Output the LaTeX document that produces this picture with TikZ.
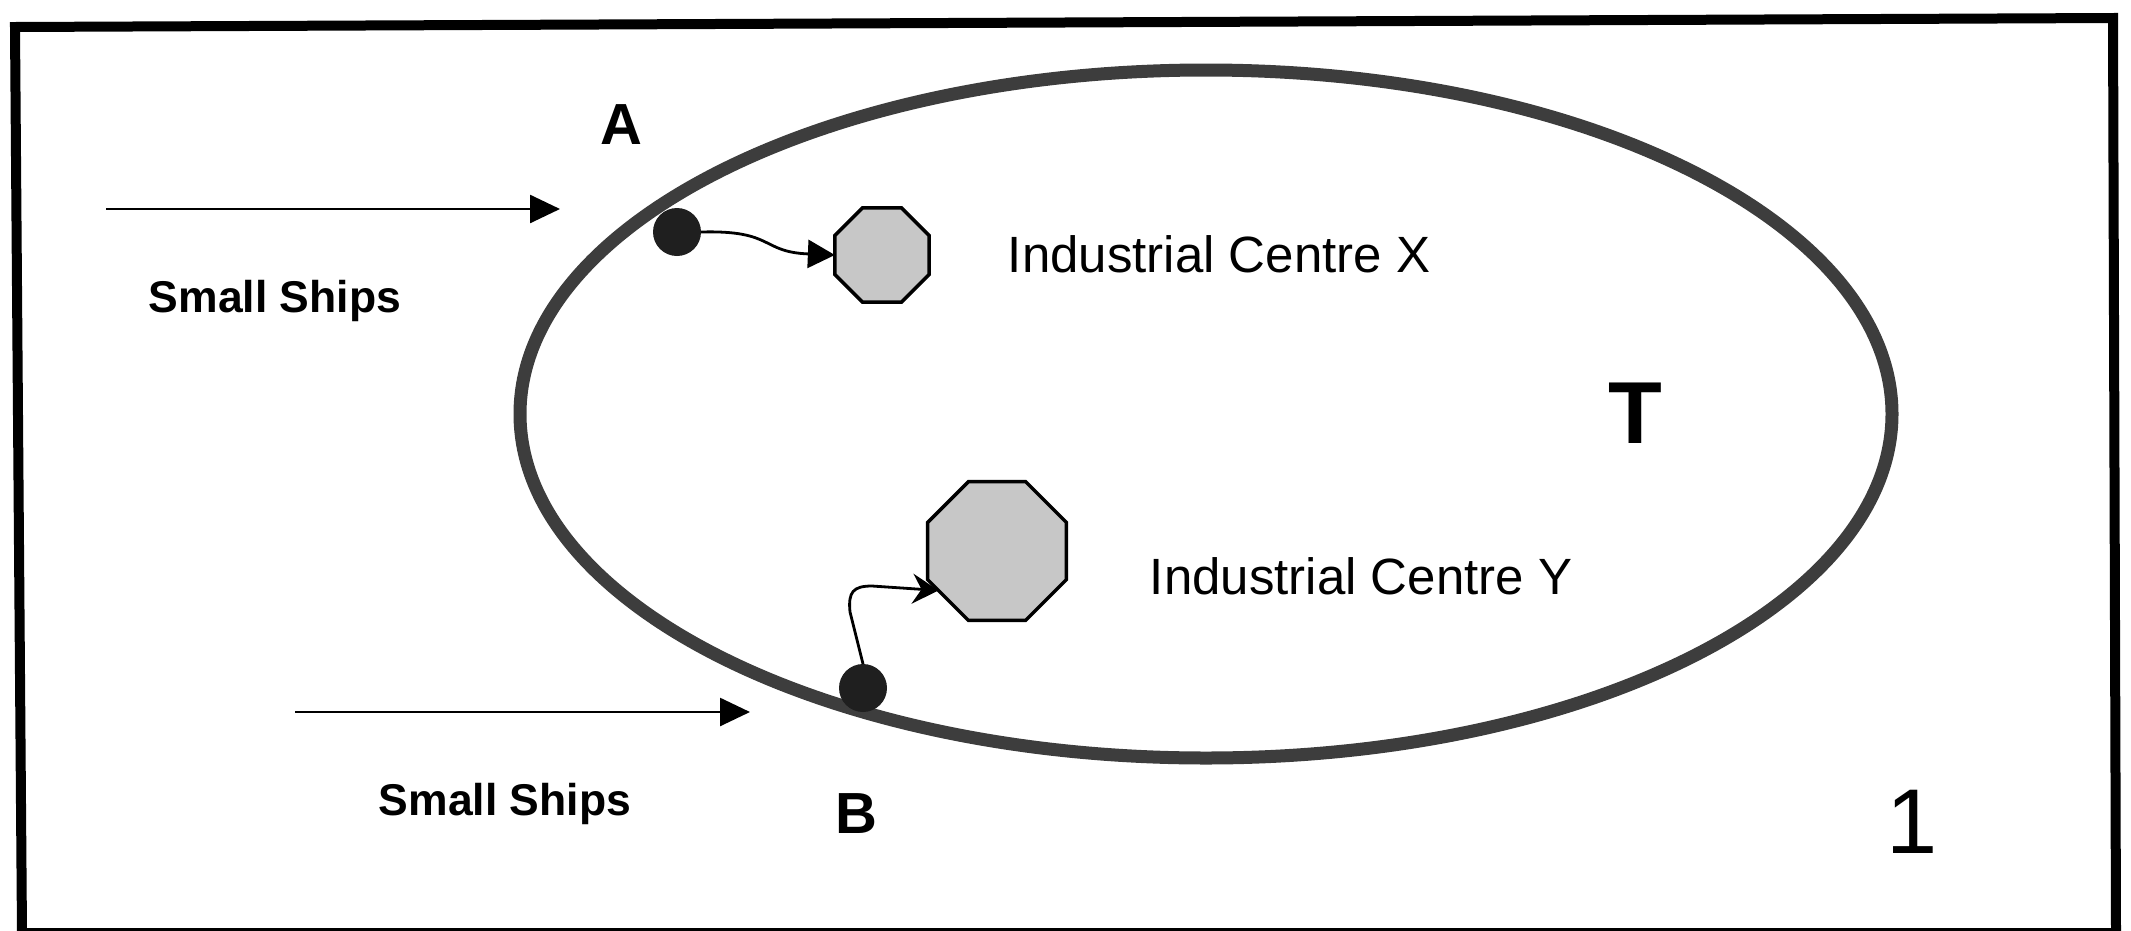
\documentclass[tikz,border=0pt]{standalone}
\usepackage{fontspec}
\setmainfont{Liberation Sans}
\usetikzlibrary{arrows.meta,shapes.geometric}
\tikzset{
  lbl/.style={inner sep=0pt, outer sep=0pt, anchor=base},
  dotnode/.style={circle, fill=black!88, draw=none, minimum size=48pt, inner sep=0pt, outer sep=0pt},
  centre/.style={regular polygon, regular polygon sides=8, draw=black, line width=3.5pt, fill=black!22, inner sep=0pt, outer sep=0pt},
  shiparrow/.style={line width=2.6pt, -{Triangle[length=30pt,width=28pt]}},
  feedarrow/.style={line width=2.8pt},
}
\begin{document}
\begin{tikzpicture}[x=1pt,y=-1pt]
\useasboundingbox (0,0) rectangle (2131,930);
% frame
\draw[line width=10pt, line join=miter] (15,27) -- (2113,18) -- (2116,933) -- (22,933) -- cycle;
% territory
\draw[line width=13pt, draw=black!76] (1206,414) ellipse [x radius=686, y radius=344];
% industrial centres
\node[centre, minimum size=102pt] (cx) at (882,255) {};
\node[centre, minimum size=150pt] (cy) at (997,551) {};
% ports
\node[dotnode] (dotA) at (677,232) {};
\node[dotnode] (dotB) at (863,688) {};
% incoming ships
\coordinate (sa0) at (106,209);
\coordinate (sa1) at (560,209);
\coordinate (sb0) at (295,712);
\coordinate (sb1) at (750,712);
\draw[shiparrow] (sa0) -- (sa1);
\draw[shiparrow] (sb0) -- (sb1);
% feeder links
\draw[feedarrow, -{Triangle[length=27pt,width=28pt]}] (dotA.east) .. controls (775,230) and (760,252) .. (cx.west);
\draw[feedarrow, -{Stealth[length=26pt,width=30pt,inset=9pt]}] (dotB.north) -- (850,612) .. controls (848,592) and (853,586) .. (872,586) -- (cy.214);
% labels
\node[lbl, font=\fontsize{58}{60}\selectfont\bfseries] (lA) at (621,144) {A};
\node[lbl, font=\fontsize{58}{60}\selectfont\bfseries] (lB) at (856,833) {B};
\node[lbl, font=\fontsize{44.5}{50}\selectfont\bfseries] (ss1) at (275,312) {Small Ships};
\node[lbl, font=\fontsize{44.5}{50}\selectfont\bfseries] (ss2) at (505,815) {Small Ships};
\node[lbl, font=\fontsize{51}{55}\selectfont] (icx) at (1219,272) {Industrial Centre X};
\node[lbl, font=\fontsize{51}{55}\selectfont] (icy) at (1361,594) {Industrial Centre Y};
\node[lbl, font=\fontsize{88}{90}\selectfont\bfseries] (lT) at (1635,443) {T};
\node[lbl, font=\fontsize{92}{95}\selectfont] (l1) at (1912,853) {1};
\end{tikzpicture}
\end{document}
